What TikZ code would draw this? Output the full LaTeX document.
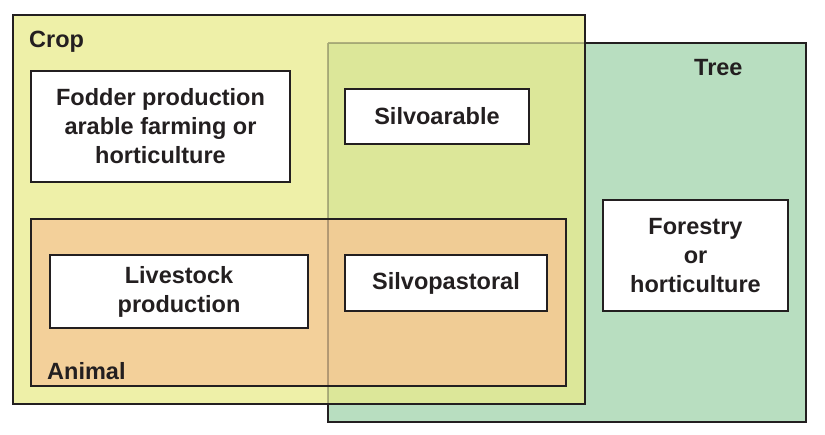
\documentclass[tikz,border=0pt]{standalone}
\usepackage{fontspec}
\setmainfont{Liberation Sans}
\definecolor{cropc}{HTML}{EEF0A8}
\definecolor{treec}{HTML}{B8DEC0}
\definecolor{overc}{HTML}{DCE799}
\definecolor{animc}{HTML}{F3D09A}
\definecolor{animoc}{HTML}{F0CC95}
\definecolor{edgec}{HTML}{231F20}
\begin{document}
\begin{tikzpicture}[x=1pt,y=-1pt,
  lbl/.style={font=\fontsize{23.5}{29}\selectfont\bfseries, text=edgec},
  wbox/.style={draw=edgec, line width=1.2pt, fill=white, align=center, inner sep=0pt}]
\useasboundingbox (0,0) rectangle (825,434);
% Crop and Tree fills
\fill[cropc] (13,15) rectangle (585,404);
\fill[treec] (328,43) rectangle (806,422);
\fill[overc] (328,43) rectangle (585,404);
% Crop border
\draw[edgec, line width=1.2pt] (13,15) rectangle (585,404);
% Animal
\fill[animc] (31,219) rectangle (566,386);
\fill[animoc] (328,219) rectangle (566,386);
\draw[edgec, line width=1.2pt] (31,219) rectangle (566,386);
% Tree border
\draw[edgec, line width=1.2pt, draw opacity=0.3] (328,43) -- (328,404) (328,43) -- (585,43);
\draw[edgec, line width=1.2pt] (585,43) -- (806,43) -- (806,422) -- (328,422) -- (328,404);
% Group labels
\node[lbl, anchor=base west, inner sep=0pt] (crop) at (29,47) {Crop};
\node[lbl, anchor=base west, inner sep=0pt] (tree) at (694,75) {Tree};
\node[lbl, anchor=base west, inner sep=0pt] (animal) at (47,379) {Animal};
% Boxes
\node[wbox, minimum width=259, minimum height=111, lbl] (fodder) at (160.5,126.5) {Fodder production\\arable farming or\\horticulture};
\node[wbox, minimum width=184, minimum height=55, lbl] (silvoar) at (437,116.5) {Silvoarable};
\node[wbox, minimum width=258, minimum height=73, lbl] (livestock) at (179,291.5) {Livestock\\production};
\node[wbox, minimum width=202, minimum height=56, lbl] (silvopas) at (446,283) {Silvopastoral};
\node[wbox, minimum width=185, minimum height=111, lbl] (forestry) at (695.5,255.5) {Forestry\\or\\horticulture};
\end{tikzpicture}
\end{document}
